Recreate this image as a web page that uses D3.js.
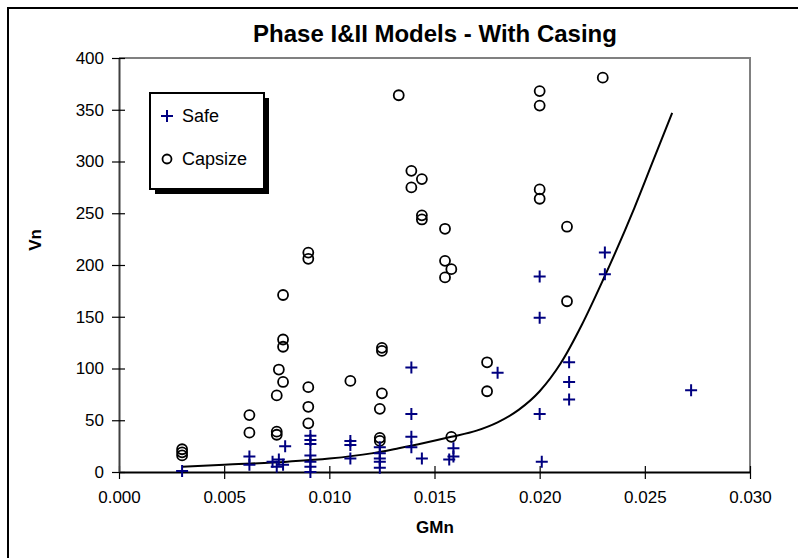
<!DOCTYPE html>
<html>
<head>
<meta charset="utf-8">
<script src="https://cdnjs.cloudflare.com/ajax/libs/d3/7.8.5/d3.min.js"></script>
<style>
  body { margin: 0; background: #fff; }
  text { font-family: "Liberation Sans", Arial, sans-serif; }
</style>
</head>
<body>
<svg id="chart" width="798" height="558"></svg>
<script>
// values
var safeGM = [0.003, 0.0062, 0.0062, 0.0073, 0.0075, 0.0076, 0.0078, 0.0079,
  0.0091, 0.0091, 0.0091, 0.0091, 0.0091, 0.0091, 0.0091,
  0.011, 0.011, 0.011, 0.0124, 0.0124, 0.0124, 0.0124, 0.0124,
  0.0139, 0.0139, 0.0139, 0.0139, 0.0144, 0.0157, 0.0159, 0.0159,
  0.018, 0.0200, 0.0200, 0.0200, 0.0201, 0.0214, 0.0214, 0.0214,
  0.0231, 0.0231, 0.0272];
var safeVn = [1, 15, 7, 10, 5, 12, 7, 25,
  35, 31, 27, 16, 10, 5, 0,
  30, 26, 13, 24, 18, 13, 10, 4,
  101, 56, 34, 24, 13, 12, 23, 15,
  96, 189, 149, 56, 10, 106, 87, 70,
  212, 191, 79];

var capGM = [0.003, 0.003, 0.003, 0.0062, 0.0062,
  0.0075, 0.0075, 0.0075, 0.0076, 0.0078, 0.0078, 0.0078, 0.0078,
  0.009, 0.009, 0.009, 0.009, 0.009, 0.011,
  0.0125, 0.0125, 0.0125, 0.0124, 0.0124, 0.0124,
  0.0133, 0.0139, 0.0144, 0.0139, 0.0144, 0.0144,
  0.0155, 0.0155, 0.0158, 0.0155, 0.0158,
  0.0175, 0.0175, 0.020, 0.020, 0.020, 0.020, 0.0213, 0.0213, 0.023];
var capVn = [22, 19, 16, 55, 38,
  74, 39, 36, 99, 128, 121, 87, 171,
  212, 206, 82, 63, 47, 88,
  120, 117, 76, 61, 33, 30,
  364, 291, 283, 275, 248, 244,
  235, 204, 196, 188, 34,
  106, 78, 368, 354, 273, 264, 237, 165, 381];

// trend line, traced point by point
var fitGM = [0.003, 0.005, 0.008, 0.010, 0.012, 0.0133, 0.0145, 0.0158, 0.017, 0.018,
  0.019, 0.020, 0.021, 0.022, 0.023, 0.0245, 0.0254, 0.0263];
var fitVn = [5, 7, 10, 13, 18, 23, 28, 34, 40, 48, 60, 78, 105, 142, 185, 255, 301, 347];

var xTicks = [0, 0.005, 0.010, 0.015, 0.020, 0.025, 0.030];
var yTicks = [0, 50, 100, 150, 200, 250, 300, 350, 400];

var svg = d3.select("#chart");
var pLeft = 119, pRight = 750, pTop = 58, pBottom = 472;

var x = d3.scaleLinear().domain([0, 0.030]).range([pLeft, pRight]);
var y = d3.scaleLinear().domain([0, 400]).range([pBottom, pTop]);

// outer chart border
svg.append("rect")
  .attr("x", 8).attr("y", 8)
  .attr("width", 820).attr("height", 600)
  .attr("fill", "none").attr("stroke", "#000").attr("stroke-width", 2);

svg.append("text")
  .attr("x", 435).attr("y", 42)
  .attr("text-anchor", "middle")
  .style("font-size", "24px").style("font-weight", "bold")
  .text("Phase I&II Models - With Casing");

// plot frame (top and right in grey)
svg.append("path")
  .attr("d", "M" + pLeft + "," + pTop + "H" + pRight + "V" + pBottom)
  .attr("fill", "none").attr("stroke", "#808080").attr("stroke-width", 2);

var xAxis = svg.append("g")
  .attr("transform", "translate(0," + pBottom + ")")
  .call(d3.axisBottom(x).tickValues(xTicks).tickFormat(d3.format(".3f"))
    .tickSizeInner(7).tickSizeOuter(0).tickPadding(12));
xAxis.select(".domain").attr("stroke", "#000").attr("stroke-width", 2);
xAxis.selectAll(".tick line").attr("stroke", "#000").attr("y1", -6).attr("stroke-width", 1.2);
xAxis.selectAll(".tick text").style("font-size", "17px").attr("fill", "#000");

var yAxis = svg.append("g")
  .attr("transform", "translate(" + pLeft + ",0)")
  .call(d3.axisLeft(y).tickValues(yTicks).tickSizeInner(7).tickSizeOuter(0).tickPadding(8));
yAxis.select(".domain").attr("stroke", "#404040").attr("stroke-width", 2);
yAxis.selectAll(".tick line").attr("stroke", "#000").attr("x1", 6).attr("stroke-width", 1.2);
yAxis.selectAll(".tick text").style("font-size", "17px").attr("fill", "#000");

svg.append("text")
  .attr("x", 435).attr("y", 533)
  .attr("text-anchor", "middle")
  .style("font-size", "17px").style("font-weight", "bold")
  .text("GMn");

svg.append("text")
  .attr("transform", "translate(41,240) rotate(-90)")
  .attr("text-anchor", "middle")
  .style("font-size", "17px").style("font-weight", "bold")
  .text("Vn");

// trend line
var line = d3.line()
  .x(function(d, i) { return x(fitGM[i]); })
  .y(function(d, i) { return y(fitVn[i]); })
  .curve(d3.curveMonotoneX);
svg.append("path")
  .datum(fitVn)
  .attr("d", line)
  .attr("fill", "none").attr("stroke", "#000").attr("stroke-width", 2);

// capsize circles
svg.append("g").selectAll("circle")
  .data(capVn)
  .enter()
  .append("circle")
  .attr("cx", function(d, i) { return x(capGM[i]); })
  .attr("cy", function(d) { return y(d); })
  .attr("r", 5)
  .attr("fill", "none").attr("stroke", "#000").attr("stroke-width", 1.8);

// safe crosses
var plus = "M-6,0H6M0,-6V6";
svg.append("g").selectAll("path")
  .data(safeVn)
  .enter()
  .append("path")
  .attr("transform", function(d, i) { return "translate(" + x(safeGM[i]) + "," + y(d) + ")"; })
  .attr("d", plus)
  .attr("stroke", "#000080").attr("stroke-width", 2);

// legend
var lg = svg.append("g").attr("transform", "translate(150,93)");
lg.append("rect").attr("x", 5).attr("y", 5).attr("width", 114).attr("height", 96).attr("fill", "#000");
lg.append("rect").attr("x", 0).attr("y", 0).attr("width", 114).attr("height", 96)
  .attr("fill", "#fff").attr("stroke", "#000").attr("stroke-width", 2);
lg.append("path").attr("transform", "translate(17,23)").attr("d", "M-6,0H6M0,-6V6")
  .attr("stroke", "#000080").attr("stroke-width", 2);
lg.append("circle").attr("cx", 17).attr("cy", 66).attr("r", 4.5)
  .attr("fill", "none").attr("stroke", "#000").attr("stroke-width", 1.8);
lg.append("text").attr("x", 32).attr("y", 29).style("font-size", "18px").text("Safe");
lg.append("text").attr("x", 32).attr("y", 72).style("font-size", "18px").text("Capsize");
</script>
</body>
</html>
